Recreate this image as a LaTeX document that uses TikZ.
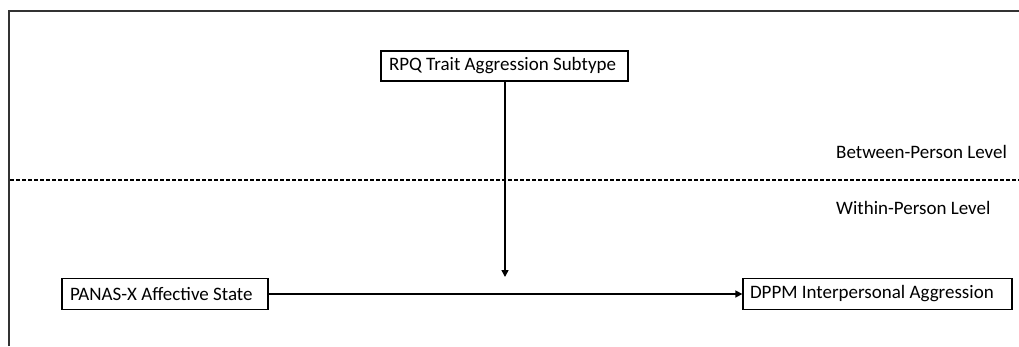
\documentclass[tikz,border=0pt]{standalone}
\usepackage{fontspec}
\setmainfont{Carlito}
\usetikzlibrary{arrows.meta}
\newcommand{\lefttext}[2]{\makebox[#1][l]{#2}}
\begin{document}
\begin{tikzpicture}[x=1pt,y=-1pt,
  box/.style={draw,line width=1.3pt,inner xsep=8pt,inner ysep=0pt,font=\fontsize{19}{22}\selectfont},
  lbl/.style={anchor=west,inner sep=0pt,font=\fontsize{19}{22}\selectfont},
  conn/.style={line width=1.5pt,-{Triangle[length=7pt,width=7pt]}}]
\useasboundingbox (0,0) rectangle (1019,346);
\draw[line width=1.6pt,black!80] (9,346) -- (9,11) -- (1019,11);
\draw[dashed,line width=1.3pt,dash pattern=on 4pt off 2pt] (10,180) -- (1019,180);
\node[box,minimum height=30pt] (rpq) at (504.5,66) {\lefttext{231pt}{RPQ Trait Aggression Subtype}};
\node[box,minimum height=31pt] (panas) at (165,294) {\lefttext{190pt}{PANAS-X Affective State}};
\node[box,inner xsep=7pt,minimum height=31pt] (dppm) at (877.5,294) {\lefttext{255pt}{DPPM Interpersonal Aggression}};
\coordinate (mid) at (505,277);
\draw[conn] (panas.east) -- (dppm.west);
\draw[conn] (rpq.south -| mid) -- (mid);
\node[lbl] (between) at (836,152) {Between-Person Level};
\node[lbl] (within) at (836,208) {Within-Person Level};
\end{tikzpicture}
\end{document}
